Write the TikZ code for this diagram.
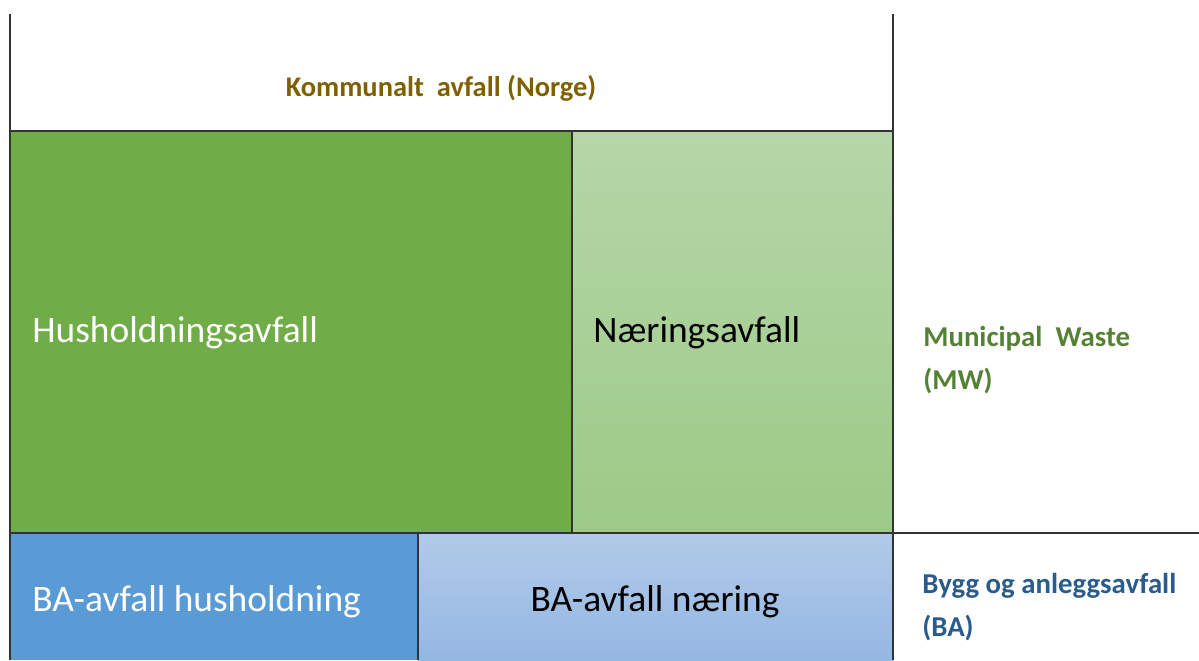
\documentclass[tikz,border=0pt]{standalone}
\usepackage{xcolor}
\usepackage{fontspec}
\setmainfont{Carlito}
\usepackage{tikz}
\usetikzlibrary{positioning}

\definecolor{hhgreen}{HTML}{70AD47}
\definecolor{nagreentop}{HTML}{B6D6A9}
\definecolor{nagreenbot}{HTML}{9CCA86}
\definecolor{bablue}{HTML}{5B9BD5}
\definecolor{nabluetop}{HTML}{B2CAE9}
\definecolor{nabluebot}{HTML}{94B7E2}
\definecolor{kommbrown}{HTML}{7F6000}
\definecolor{mwgreen}{HTML}{548235}
\definecolor{bablue2}{HTML}{295B8D}

\begin{document}
\begin{tikzpicture}[x=0.02cm, y=-0.02cm,
  boxline/.style={draw=black!80, line width=0.8pt},
  bigtext/.style={font=\fontsize{21.3}{25}\selectfont, inner sep=0pt},
  sidetext/.style={font=\fontsize{16.4}{24.4}\selectfont\bfseries, inner sep=0pt, align=left}]

\useasboundingbox (0,0) rectangle (1199,660);

% Boxes
\fill [hhgreen] (10,131) rectangle (572,533);
\shade [top color=nagreentop, bottom color=nagreenbot] (572,131) rectangle (893,533);
\fill [bablue] (10,533) rectangle (418,660);
\shade [top color=nabluetop, bottom color=nabluebot] (418,533) rectangle (893,660);

% Lines
\draw [boxline] (10,14) -- (10,660);
\draw [boxline] (893,14) -- (893,660);
\draw [boxline] (10,131) -- (893,131);
\draw [boxline] (10,533) -- (1199,533);
\draw [boxline] (572,131) -- (572,533);
\draw [boxline] (418,533) -- (418,660);

% Labels
\node (komm) [sidetext, font=\fontsize{16.2}{20}\selectfont\bfseries, text=kommbrown, anchor=base] at (441,96) {Kommunalt\ \ avfall (Norge)};

\node (hh) [bigtext, text=white, anchor=base west] at (32,342) {Husholdningsavfall};
\node (naering) [bigtext, text=black, anchor=base west] at (593,342) {Næringsavfall};

\node (bahh) [bigtext, text=white, anchor=base west] at (32,611) {BA-avfall husholdning};
\node (banaering) [bigtext, text=black, anchor=base] at (655,611) {BA-avfall næring};

% multi-line: base is the last line
\node (mw) [sidetext, text=mwgreen, anchor=base west] at (923,389) {Municipal\ \ Waste\\(MW)};
\node (ba) [sidetext, text=bablue2, anchor=base west] at (922,636) {Bygg og anleggsavfall\\(BA)};

\end{tikzpicture}
\end{document}
